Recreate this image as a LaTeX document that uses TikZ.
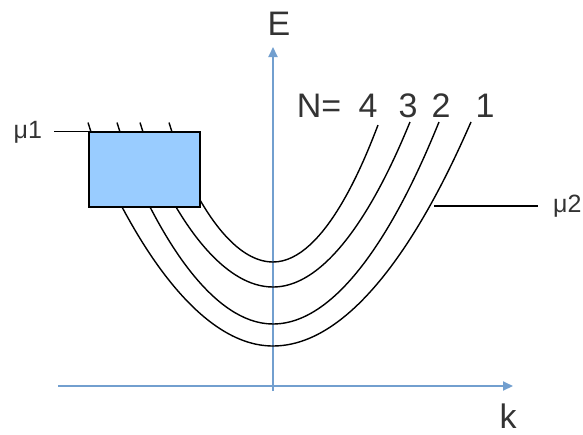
\documentclass[tikz,border=0pt]{standalone}
\usepackage{fontspec}
\setmainfont{Liberation Sans}
\usetikzlibrary{arrows.meta}
\definecolor{AxBlue}{HTML}{729FCF}
\definecolor{BoxBlue}{HTML}{99CCFF}
\definecolor{TxtGray}{HTML}{333333}

\begin{document}
\begin{tikzpicture}[x=1pt, y=-1pt,
  axis/.style={-{Triangle[length=10pt,width=9pt]}, line width=2pt, AxBlue},
  band/.style={line width=1.4pt, black},
  big/.style={font=\fontsize{34}{34}\selectfont, text=TxtGray, inner sep=0pt, anchor=base},
  small/.style={font=\fontsize{25}{25}\selectfont, text=TxtGray, inner sep=0pt},
  res/.style={draw=black, line width=1.6pt, fill=BoxBlue, minimum width=111pt, minimum height=75pt, inner sep=0pt}
]
\useasboundingbox (0,0) rectangle (583,434);
% axes
\coordinate (kstart) at (58,386);
\coordinate (kend) at (513,386);
\coordinate (estart) at (273,391);
\coordinate (eend) at (273,47);
\draw[axis] (kstart) -- (kend);
\draw[axis] (estart) -- (eend);
\node[big] (elab) at (279,35) {E};
\node[big] (klab) at (508,428) {k};

% subbands N=4..1
\draw[band] (200,200) parabola bend (273,262) (378,125);
\draw[band] (176,207) parabola bend (273,287) (410,122);
\draw[band] (150,207) parabola bend (273,324) (439,122);
\draw[band] (122,207) parabola bend (273,346) (471,122);

\node[big] (neq) at (319,117) {N=};
\node[big] (n4) at (368,117) {4};
\node[big] (n3) at (408,117) {3};
\node[big] (n2) at (441,117) {2};
\node[big] (n1) at (485,117) {1};

% reservoir
\node[res] (box) at (144.5,169.5) {};
\draw[band] (box.north west) -- ++(-34,0) coordinate (m1);
\node[small, anchor=east] (mu1) at ([xshift=-12pt,yshift=-1pt]m1) {μ1};
\foreach \tx in {88,117,140,169}
  \draw[band] (\tx,122.5) -- (\tx+3,132);

\coordinate (m2) at (434,206);
\draw[band] (m2) -- ++(104,0) coordinate (m2e);
\node[small, anchor=west] (mu2) at ([xshift=15pt]m2e) {μ2};
\end{tikzpicture}
\end{document}
